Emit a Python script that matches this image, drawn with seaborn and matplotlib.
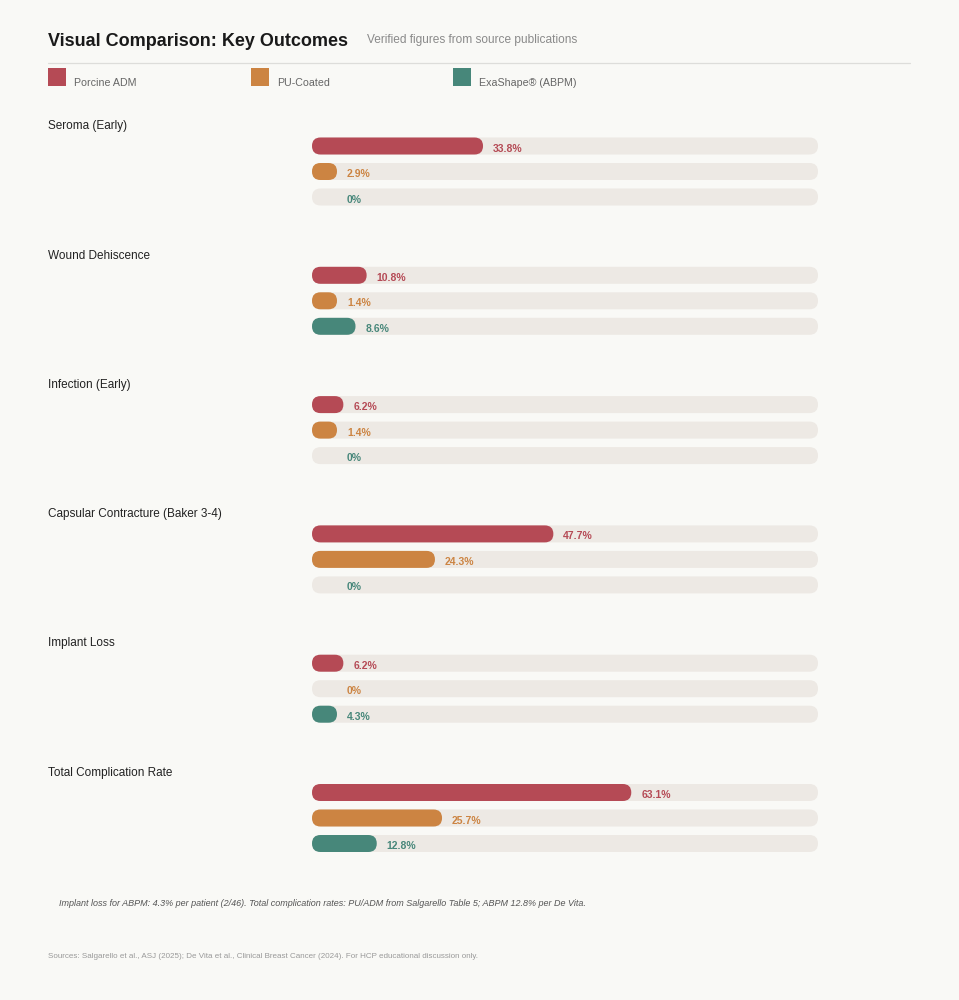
import matplotlib
matplotlib.use("Agg")
import matplotlib.pyplot as plt
from matplotlib.patches import FancyBboxPatch
import seaborn as sns
import pandas as pd

sns.set_theme(style="white")
plt.rcParams['font.family'] = ['Liberation Sans', 'DejaVu Sans']

# ---- data ----
outcomes = ["Seroma (Early)", "Wound Dehiscence", "Infection (Early)",
            "Capsular Contracture (Baker 3-4)", "Implant Loss", "Total Complication Rate"]
series = ["Porcine ADM", "PU-Coated", "ExaShape® (ABPM)"]
porcine_adm = [33.8, 10.8, 6.2, 47.7, 6.2, 63.1]
pu_coated = [2.9, 1.4, 1.4, 24.3, 0.0, 25.7]
exashape = [0.0, 8.6, 0.0, 0.0, 4.3, 12.8]
value_labels = {
    "Porcine ADM": ["33.8%", "10.8%", "6.2%", "47.7%", "6.2%", "63.1%"],
    "PU-Coated": ["2.9%", "1.4%", "1.4%", "24.3%", "0%", "25.7%"],
    "ExaShape® (ABPM)": ["0%", "8.6%", "0%", "0%", "4.3%", "12.8%"],
}
colors = {"Porcine ADM": "#B54A55", "PU-Coated": "#CC8442", "ExaShape® (ABPM)": "#47877A"}

title = "Visual Comparison: Key Outcomes"
subtitle = "Verified figures from source publications"
footnote = ("Implant loss for ABPM: 4.3% per patient (2/46). Total complication rates: "
            "PU/ADM from Salgarello Table 5; ABPM 12.8% per De Vita.")
sources = ("Sources: Salgarello et al., ASJ (2025); De Vita et al., Clinical Breast Cancer (2024). "
           "For HCP educational discussion only.")

rows = []
for i, o in enumerate(outcomes):
    for s, vals in zip(series, [porcine_adm, pu_coated, exashape]):
        rows.append({"outcome": o, "series": s, "value": vals[i], "label": value_labels[s][i]})
df = pd.DataFrame(rows)

# ---- layout ----
W, H = 959, 1000
BG = "#F9F9F6"
TRACK = "#EDE9E4"
fig = plt.figure(figsize=(W / 100, H / 100), dpi=100, facecolor=BG)

def fx(px):
    return px / W

def fy(py):
    return 1 - py / H

fig.text(fx(48), fy(41), title, fontsize=13, fontweight="bold", color="#1a1a1a", va="center")
fig.text(fx(367), fy(40), subtitle, fontsize=8.6, color="#8a8a8a", va="center")
fig.add_artist(plt.Line2D([fx(48), fx(910)], [fy(63), fy(63)], color="#DDDDDA", lw=0.9))

for s, lx in zip(series, [48, 251, 453]):
    fig.patches.append(FancyBboxPatch((fx(lx), fy(86)), 18 / W, 18 / H, boxstyle="square,pad=0",
                                      transform=fig.transFigure, facecolor=colors[s],
                                      edgecolor="none", figure=fig))
    fig.text(fx(lx + 26), fy(83), s, fontsize=7.7, color="#666666", va="center")

x0_px, x1_px = 312, 818
row_px = 25.5
bar_px = 17
group_step = 129.3
first_center = 146
min_px = 25
xpp = 100 / (x1_px - x0_px)  # data units per pixel in x

for g, o in enumerate(outcomes):
    center_mid = first_center + g * group_step + row_px
    top = center_mid - 1.5 * row_px
    ax = fig.add_axes([fx(x0_px), fy(top + 3 * row_px), (x1_px - x0_px) / W, 3 * row_px / H])
    ax.set_facecolor("none")
    sub = df[df["outcome"] == o].reset_index(drop=True)
    sub["track"] = 100.0
    # track
    sns.barplot(data=sub, y="series", x="track", color=TRACK, width=bar_px / row_px,
                ax=ax, orient="h", errorbar=None, order=series, saturation=1)
    sub["shown"] = [max(v, min_px * xpp) if v > 0 else 0 for v in sub["value"]]
    sns.barplot(data=sub, y="series", x="shown", hue="series", palette=colors,
                width=bar_px / row_px, ax=ax, orient="h", errorbar=None, saturation=1,
                order=series, hue_order=series, legend=False, dodge=False)
    ax.set_xlim(0, 100)
    ax.set_ylim(2.5, -0.5)
    ypp = 3 / (3 * row_px)
    aspect = ypp / xpp
    # convert rectangles to pills
    patches = list(ax.patches)
    for p in patches:
        x, y = p.get_x(), p.get_y()
        w, h = p.get_width(), p.get_height()
        fc = p.get_facecolor()
        p.remove()
        if w <= 0:
            continue
        r = (bar_px / 2) * xpp
        fb = FancyBboxPatch((x, y), w, h, boxstyle=f"round,pad=0,rounding_size={r}",
                            mutation_aspect=aspect, facecolor=fc, edgecolor="none")
        ax.add_patch(fb)
    for i, s in enumerate(series):
        r_ = sub[sub["series"] == s].iloc[0]
        lx = max(r_["shown"], min_px * xpp) + 10 * xpp
        ax.text(lx, i + 0.1, r_["label"], color=colors[s], fontsize=7.5,
                fontweight="bold", va="center", ha="left")
    ax.axis("off")
    fig.text(fx(48), fy(top - 7), o, fontsize=8.5, color="#222222", va="center")

fig.text(fx(59), fy(903), footnote, fontsize=6.5, style="italic", color="#555555", va="center")
fig.text(fx(48), fy(956), sources, fontsize=5.75, color="#999999", va="center")

fig.savefig("out.png", dpi=100, facecolor=BG)
